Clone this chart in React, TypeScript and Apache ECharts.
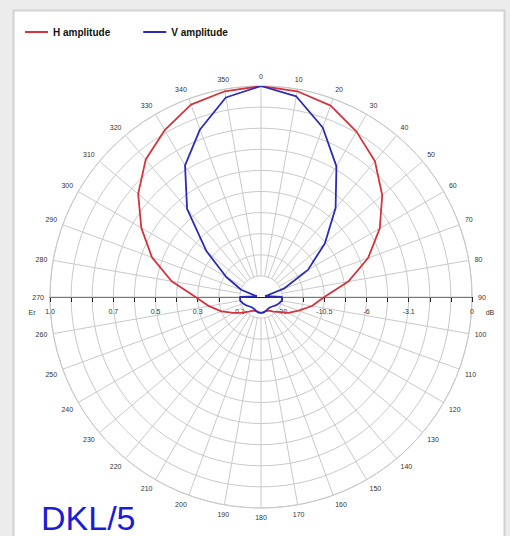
import React, { useEffect, useRef } from "react";
import * as echarts from "echarts";

// Data (angle in degrees, amplitude as linear field strength Er 0..1)
const angles = [0, 10, 20, 30, 40, 50, 60, 70, 80, 90, 100, 110, 120, 130, 140, 150, 160, 170, 180,
  190, 200, 210, 220, 230, 240, 250, 260, 270, 280, 290, 300, 310, 320, 330, 340, 350, 360];
const hAmplitude = [1.0, 0.99, 0.965, 0.905, 0.84, 0.75, 0.65, 0.54, 0.42, 0.30, 0.245, 0.19, 0.15, 0.11, 0.09, 0.075, 0.07, 0.072, 0.075,
  0.072, 0.07, 0.075, 0.09, 0.115, 0.15, 0.2, 0.25, 0.31, 0.43, 0.55, 0.655, 0.76, 0.85, 0.913, 0.97, 0.99, 1.0];
const vAmplitude = [1.0, 0.965, 0.855, 0.715, 0.55, 0.395, 0.257, 0.115, 0.02, 0.1, 0.1, 0.09, 0.08, 0.07, 0.065, 0.065, 0.07, 0.075, 0.075,
  0.075, 0.07, 0.065, 0.065, 0.07, 0.08, 0.09, 0.1, 0.1, 0.02, 0.1, 0.19, 0.337, 0.545, 0.72, 0.845, 0.96, 1.0];

const spokeAngles = [0, 10, 20, 30, 40, 50, 60, 70, 80, 90, 100, 110, 120, 130, 140, 150, 160, 170,
  180, 190, 200, 210, 220, 230, 240, 250, 260, 270, 280, 290, 300, 310, 320, 330, 340, 350];

// Horizontal scale: ticks and labels
const scaleTicks = [-1, -0.9, -0.8, -0.7, -0.6, -0.5, -0.4, -0.3, -0.2, -0.1, 0.1, 0.2, 0.3, 0.4, 0.5, 0.6, 0.7, 0.8, 0.9, 1];
const erLabelValues = [-1, -0.7, -0.5, -0.3, -0.1];
const erLabels = ["1.0", "0.7", "0.5", "0.3", "0.1"];
const dbLabelValues = [0.1, 0.3, 0.5, 0.7, 1];
const dbLabels = ["-20", "-10.5", "-6", "-3.1", "0"];

const seriesNames = ["H amplitude", "V amplitude"];
const title = "DKL/5";

export default function App() {
  const ref = useRef<HTMLDivElement>(null);
  useEffect(() => {
    if (!ref.current) return;
    const chart = echarts.init(ref.current, undefined, { renderer: "svg" });
    const grey = "#c9c9c9";
    const font = "Liberation Sans, Arial, sans-serif";
    const labelKey = (v: number) => Math.round(v * 10);
    const option: any = {
      animation: false,
      backgroundColor: "#ececec",
      textStyle: { fontFamily: font },
      graphic: [
        {
          type: "rect",
          z: -10,
          shape: { x: 13.5, y: 10.5, width: 491, height: 540 },
          style: { fill: "#ffffff", stroke: "#d2d2d2", lineWidth: 2 },
          silent: true,
        },
        {
          type: "text",
          style: { text: "Er", x: 32, y: 312, fontSize: 7, fill: "#333", align: "center", verticalAlign: "middle", fontFamily: font },
        },
        {
          type: "text",
          style: { text: "dB", x: 490, y: 312, fontSize: 7, fill: "#333", align: "center", verticalAlign: "middle", fontFamily: font },
        },
        {
          type: "text",
          style: { text: title, x: 41, y: 518, fontSize: 34, fill: "#1c1cd6", align: "left", verticalAlign: "middle", fontFamily: font },
        },
      ],
      legend: {
        data: seriesNames,
        left: 25,
        top: 27,
        padding: 0,
        icon: "rect",
        itemWidth: 23,
        itemHeight: 2,
        itemGap: 33,
        textStyle: { fontSize: 10, fontWeight: "bold", color: "#111", fontFamily: font },
      },
      polar: { center: [261, 297], radius: 211 },
      angleAxis: {
        type: "value",
        min: 0,
        max: 360,
        interval: 10,
        startAngle: 90,
        clockwise: true,
        axisLine: { show: true, lineStyle: { color: grey, width: 1 } },
        axisTick: { show: false },
        splitLine: { show: false },
        axisLabel: {
          margin: 6,
          fontSize: 7,
          color: "#333",
          formatter: (v: number) => (v >= 360 ? "" : String(v)),
        },
      },
      radiusAxis: {
        type: "value",
        min: 0,
        max: 1,
        interval: 0.1,
        axisLine: { show: false },
        axisTick: { show: false },
        axisLabel: { show: false },
        splitLine: { show: true, lineStyle: { color: grey, width: 1 } },
      },
      grid: { left: 50, width: 422, top: 296, height: 1 },
      xAxis: {
        type: "value",
        min: -1,
        max: 1,
        position: "bottom",
        axisLine: { show: true, onZero: false, lineStyle: { color: "#222", width: 1 } },
        axisTick: { show: true, customValues: scaleTicks, length: 5, lineStyle: { color: "#222" } },
        splitLine: { show: false },
        axisLabel: {
          customValues: [...erLabelValues, ...dbLabelValues],
          margin: 11,
          fontSize: 7,
          color: "#333",
          formatter: (v: number) => {
            const k = labelKey(v);
            const i = erLabelValues.findIndex((x) => labelKey(x) === k);
            if (i >= 0) return erLabels[i];
            const j = dbLabelValues.findIndex((x) => labelKey(x) === k);
            if (j >= 0) return dbLabels[j];
            return "";
          },
        },
      },
      yAxis: { type: "value", show: false, min: 0, max: 1 },
      series: [
        {
          type: "custom",
          coordinateSystem: "polar",
          silent: true,
          z: 1,
          data: spokeAngles.map((a) => [1, a]),
          renderItem: (_p: any, api: any) => {
            const a = api.value(1);
            const p0 = api.coord([0.1, a]);
            const p1 = api.coord([1, a]);
            return {
              type: "line",
              shape: { x1: p0[0], y1: p0[1], x2: p1[0], y2: p1[1] },
              style: { stroke: grey, lineWidth: 1 },
            };
          },
        },
        {
          name: seriesNames[0],
          type: "line",
          coordinateSystem: "polar",
          symbol: "none",
          z: 3,
          lineStyle: { color: "#d3343d", width: 1.8 },
          itemStyle: { color: "#d3343d" },
          data: angles.map((a, i) => [hAmplitude[i], a]),
        },
        {
          name: seriesNames[1],
          type: "line",
          coordinateSystem: "polar",
          symbol: "none",
          z: 4,
          lineStyle: { color: "#2b2bb8", width: 1.8 },
          itemStyle: { color: "#2b2bb8" },
          data: angles.map((a, i) => [vAmplitude[i], a]),
        },
      ],
    };
    chart.setOption(option);
    return () => chart.dispose();
  }, []);
  return (
    <div
      ref={ref}
      style={{ position: "fixed", left: 0, top: 0, width: 510, height: 536 }}
    />
  );
}
